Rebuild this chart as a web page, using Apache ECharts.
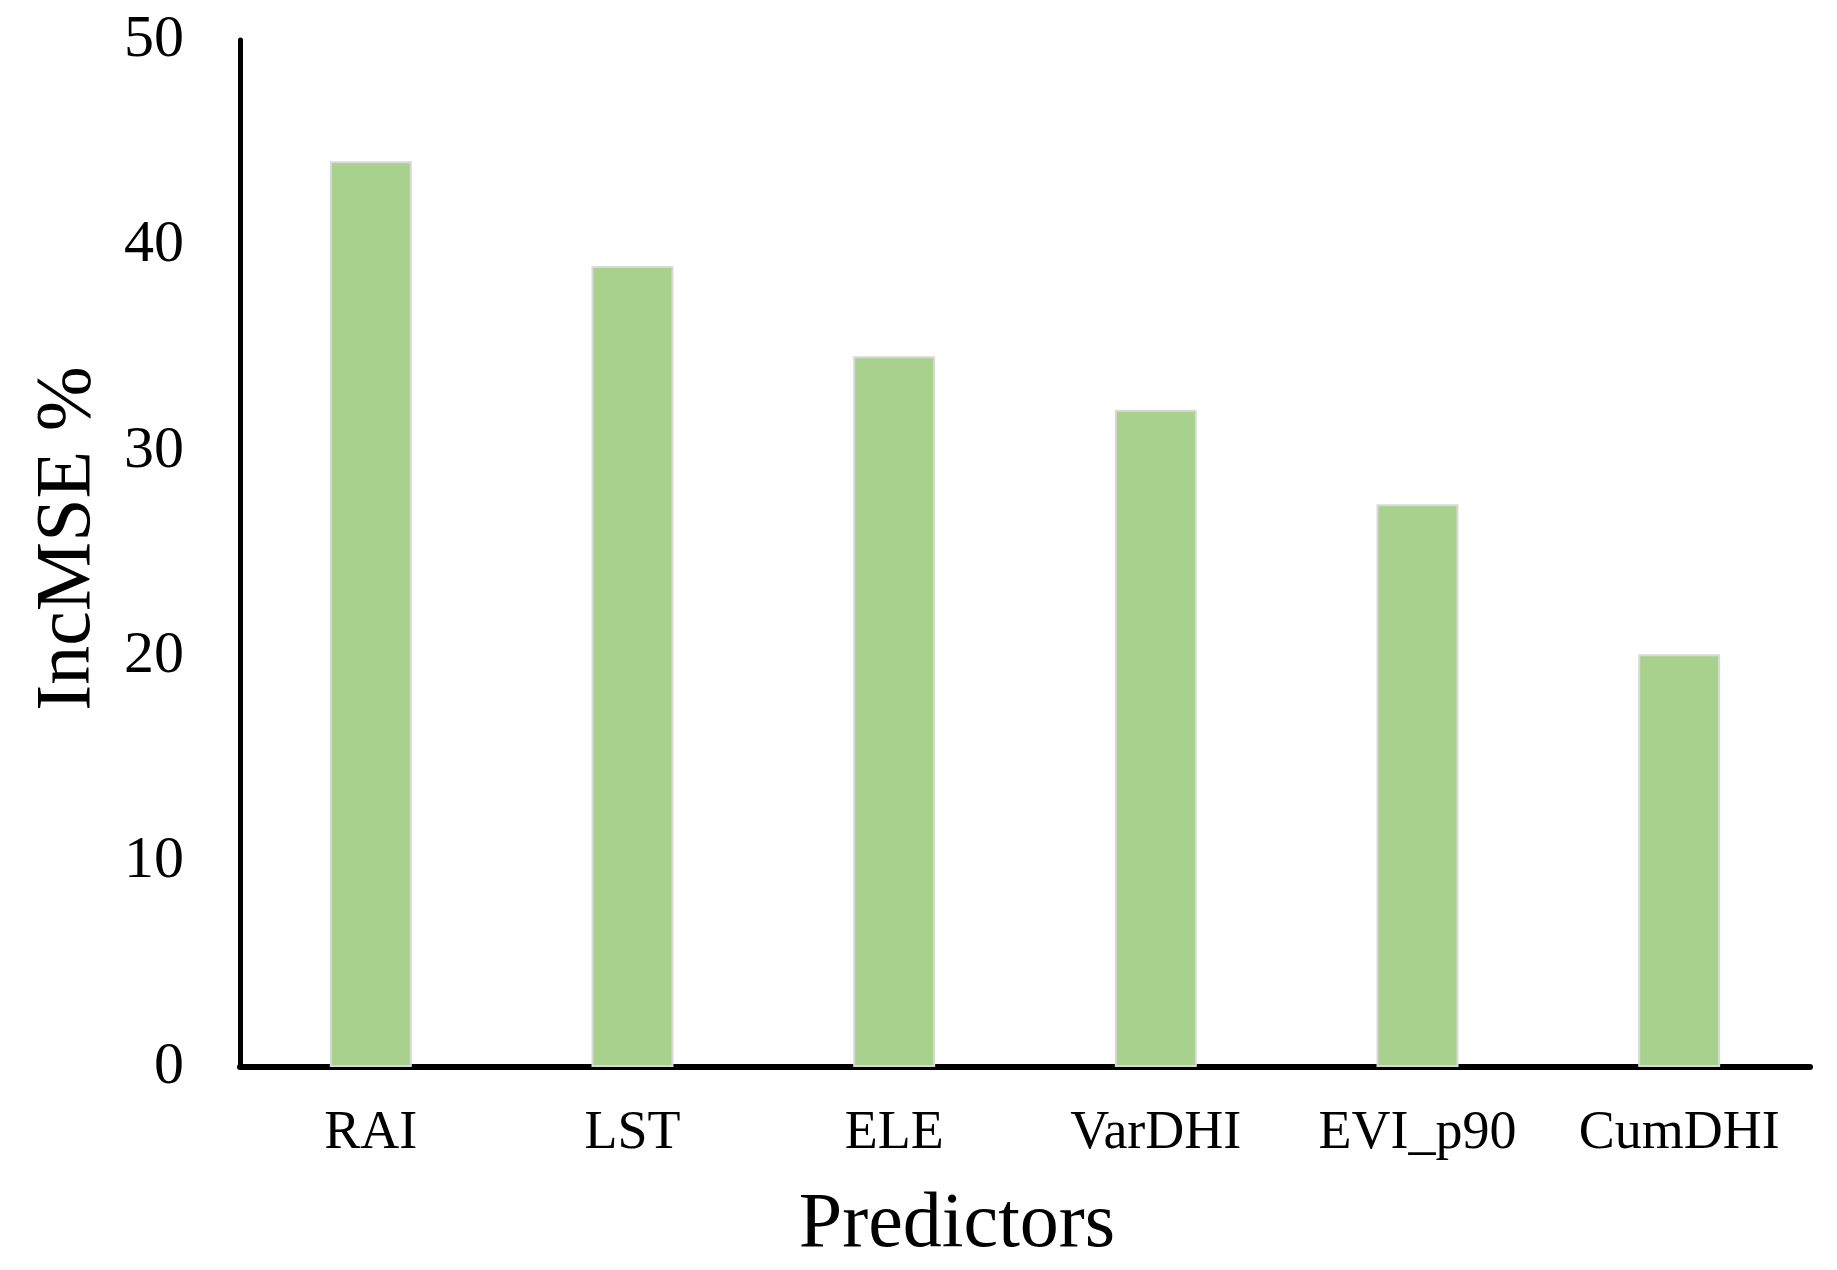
<!DOCTYPE html>
<html>
<head>
<meta charset="utf-8">
<script src="https://cdn.jsdelivr.net/npm/echarts@6/dist/echarts.min.js"></script>
<style>
html,body{margin:0;padding:0;background:#fff;}
#chart{width:1837px;height:1270px;}
</style>
</head>
<body>
<div id="chart"></div>
<script>
const categories = ["RAI", "LST", "ELE", "VarDHI", "EVI_p90", "CumDHI"];
const incMSE = [44.1, 39.0, 34.6, 32.0, 27.4, 20.1];
const yTicks = [0, 10, 20, 30, 40, 50];

const chart = echarts.init(document.getElementById('chart'));
const font = '"Liberation Serif", "Times New Roman", serif';
chart.setOption({
  backgroundColor: '#ffffff',
  animation: false,
  grid: { left: 240, right: 27, top: 40, bottom: 196 },
  xAxis: {
    type: 'category',
    data: categories,
    name: 'Predictors',
    nameLocation: 'middle',
    nameGap: 120,
    nameTextStyle: { fontFamily: font, fontSize: 78, color: '#000', padding: [0, 136, 0, 0] },
    axisLine: { show: true, lineStyle: { color: '#000', width: 6 } },
    axisTick: { show: false },
    axisLabel: { fontFamily: font, fontSize: 54, color: '#000', margin: 40 },
    splitLine: { show: false }
  },
  yAxis: {
    type: 'value',
    min: yTicks[0],
    max: yTicks[yTicks.length - 1],
    interval: 10,
    name: 'IncMSE %',
    nameLocation: 'middle',
    nameGap: 132,
    nameTextStyle: { fontFamily: font, fontSize: 78, color: '#000', padding: [0, 0, 0, 30] },
    axisLine: { show: true, lineStyle: { color: '#000', width: 5 } },
    axisTick: { show: false },
    axisLabel: { fontFamily: font, fontSize: 60, color: '#000', margin: 56 },
    splitLine: { show: false }
  },
  series: [{
    type: 'bar',
    data: incMSE,
    barWidth: 82,
    itemStyle: { color: '#A9D18E', borderColor: '#D9D9D9', borderWidth: 2 }
  }]
});
</script>
</body>
</html>
